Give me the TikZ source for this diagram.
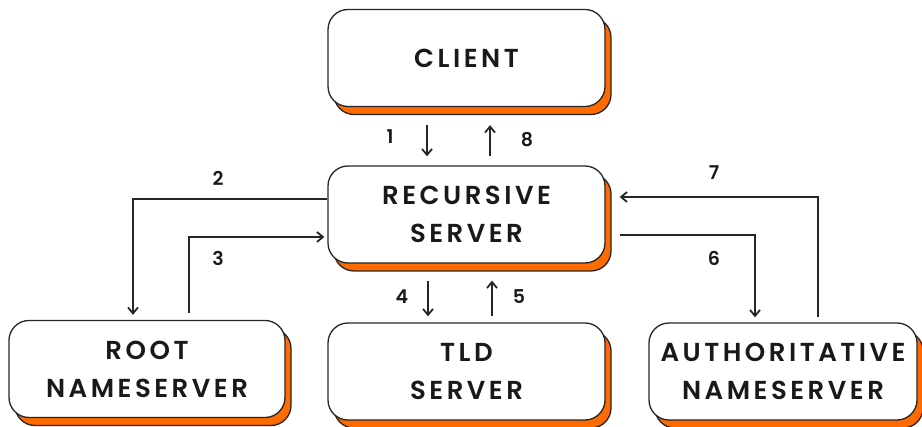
\documentclass[tikz,border=0pt]{standalone}
\usepackage{fontspec}
\usetikzlibrary{shadows,arrows.meta}
\newfontfamily\boxfont{Poppins SemiBold}[LetterSpace=13.5]
\newfontfamily\numfont{Poppins SemiBold}
\definecolor{dnsorange}{RGB}{255,107,0}
\begin{document}
\begin{tikzpicture}[x=1pt,y=-1pt,
  box/.style={draw=black!85, line width=1.3pt, rounded corners=20pt, fill=white,
    minimum height=97pt, align=center, text=black!90,
    font=\boxfont\fontsize{26}{38}\selectfont,
    copy shadow={shadow xshift=6pt, shadow yshift=-8pt, fill=dnsorange, draw=black!85, line width=1.3pt}},
  arr/.style={line width=1.8pt, draw=black!85, -{Straight Barb[length=6pt,width=10pt,line width=1.8pt]}},
  lbl/.style={font=\numfont\fontsize{19}{20}\selectfont, text=black!90}]
\useasboundingbox (0,0) rectangle (922,427);

\node[box, minimum width=277pt] (client) at (466.5,58) {CLIENT};
\node[box, minimum width=277pt] (rec) at (466.5,214.5) {RECURSIVE\\SERVER};
\node[box, minimum width=277pt] (tld) at (466.5,371.5) {TLD\\SERVER};
\node[box, minimum width=276pt] (root) at (147,369) {ROOT\\NAMESERVER};
\node[box, minimum width=268pt] (auth) at (783,371.5) {AUTHORITATIVE\\NAMESERVER};

\draw[arr] ([xshift=-39.5pt,yshift=-18pt]client.south) -- ([xshift=-39.5pt,yshift=9pt]rec.north);
\draw[arr] ([xshift=23.5pt,yshift=9pt]rec.north) -- ([xshift=23.5pt,yshift=-18pt]client.south);
\draw[arr] ([xshift=-38.5pt,yshift=-17pt]rec.south) -- ([xshift=-38.5pt,yshift=6pt]tld.north);
\draw[arr] ([xshift=25.5pt,yshift=6pt]tld.north) -- ([xshift=25.5pt,yshift=-17pt]rec.south);
\draw[arr] ([yshift=15.5pt]rec.west) -| ([xshift=-14pt,yshift=5pt]root.north);
\draw[arr] ([xshift=42pt,yshift=7pt]root.north) |- ([xshift=-3pt,yshift=-22.5pt]rec.west);
\draw[arr] ([xshift=14pt,yshift=-20.5pt]rec.east) -| ([xshift=-28pt,yshift=5pt]auth.north);
\draw[arr] ([xshift=35pt,yshift=5pt]auth.north) |- ([xshift=14pt,yshift=17.5pt]rec.east);

\node[lbl] (l1) at (390,137) {1};
\node[lbl] (l8) at (527,140) {8};
\node[lbl] (l4) at (402,297) {4};
\node[lbl] (l5) at (519,297) {5};
\node[lbl] (l2) at (218,178) {2};
\node[lbl] (l3) at (218,258) {3};
\node[lbl] (l7) at (714,173) {7};
\node[lbl] (l6) at (714,258) {6};
\end{tikzpicture}
\end{document}
